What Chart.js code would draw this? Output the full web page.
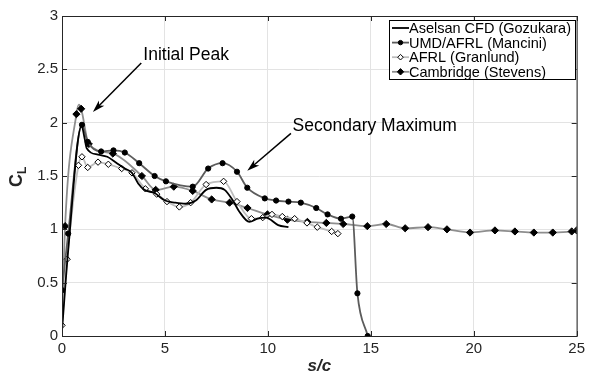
<!DOCTYPE html>
<html>
<head>
<meta charset="utf-8">
<script src="https://cdn.jsdelivr.net/npm/chart.js@4.4.0/dist/chart.umd.min.js"></script>
<style>
  html, body { margin: 0; padding: 0; background: #fff; }
  #wrap { width: 589px; height: 378px; }
</style>
</head>
<body>
<div id="wrap"><canvas id="myChart"></canvas></div>
<script>
// values
var aselsanX = [0, 0.3, 0.95, 1.1, 1.2, 1.75, 2.2, 2.6, 3.05, 3.4, 3.7, 4.0, 4.5, 5.0, 5.5, 6.0, 6.5, 7.0, 7.5, 7.9, 8.3, 8.6, 9.1, 9.5, 9.9, 10.5, 11.0];
var aselsanY = [0.05, 0.8, 1.97, 1.85, 1.76, 1.70, 1.68, 1.63, 1.57, 1.53, 1.43, 1.37, 1.34, 1.27, 1.25, 1.24, 1.27, 1.37, 1.39, 1.37, 1.27, 1.17, 1.07, 1.10, 1.11, 1.04, 1.02];

var manciniX = [0, 0.3, 0.97, 1.25, 1.9, 2.5, 3.05, 3.75, 4.5, 5.05, 6.35, 7.1, 7.8, 8.5, 9.0, 9.85, 10.4, 11.0, 11.6, 12.35, 12.9, 13.55, 14.1, 14.35, 14.85];
var manciniY = [0.43, 0.96, 1.98, 1.82, 1.73, 1.74, 1.72, 1.62, 1.50, 1.45, 1.40, 1.57, 1.62, 1.54, 1.39, 1.29, 1.27, 1.26, 1.25, 1.20, 1.14, 1.10, 1.12, 0.40, 0];

var granlundX = [0, 0.25, 0.8, 0.97, 1.25, 1.75, 2.25, 2.9, 3.4, 4.05, 4.6, 5.1, 5.7, 6.25, 7.0, 7.85, 8.5, 9.2, 9.75, 10.2, 10.7, 11.3, 11.9, 12.4, 13.1, 13.4];
var granlundY = [0.1, 0.72, 1.60, 1.68, 1.58, 1.63, 1.61, 1.57, 1.53, 1.38, 1.33, 1.26, 1.21, 1.25, 1.42, 1.45, 1.26, 1.10, 1.11, 1.14, 1.12, 1.10, 1.06, 1.02, 0.98, 0.96];

var cambridgeX = [0, 0.15, 0.7, 0.82, 0.93, 1.3, 2.47, 3.88, 4.55, 5.43, 6.35, 7.27, 8.14, 9.01, 9.98, 10.95, 11.92, 12.84, 13.66, 14.83, 15.75, 16.67, 17.78, 18.7, 19.82, 21.03, 22.0, 22.92, 23.84, 24.76, 25];
var cambridgeY = [0.1, 1.03, 2.08, 2.17, 2.13, 1.80, 1.71, 1.50, 1.37, 1.40, 1.36, 1.28, 1.25, 1.20, 1.14, 1.09, 1.07, 1.06, 1.05, 1.03, 1.05, 1.01, 1.02, 1.00, 0.97, 0.99, 0.98, 0.97, 0.97, 0.98, 0.99];

var seriesNames = ["Aselsan CFD (Gozukara)", "UMD/AFRL (Mancini)", "AFRL (Granlund)", "Cambridge (Stevens)"];
var xTicks = [0, 5, 10, 15, 20, 25];
var yTicks = [0, 0.5, 1, 1.5, 2, 2.5, 3];

var FONT = "'Liberation Sans', Arial, sans-serif";
var INK = "#262626";

function pts(xs, ys) {
  return xs.map(function (x, i) { return { x: x, y: ys[i] }; });
}

var framePlugin = {
  id: "frame",
  afterDraw: function (chart) {
    var c = chart.ctx, a = chart.chartArea;
    var sx = chart.scales.x, sy = chart.scales.y;
    c.save();
    // box and inward ticks
    c.strokeStyle = INK;
    c.lineWidth = 1;
    c.strokeRect(a.left + 0.5, a.top + 0.5, a.right - a.left, a.bottom - a.top);
    c.beginPath();
    xTicks.forEach(function (v) {
      var px = Math.round(sx.getPixelForValue(v)) + 0.5;
      c.moveTo(px, a.bottom); c.lineTo(px, a.bottom - 5);
      c.moveTo(px, a.top); c.lineTo(px, a.top + 5);
    });
    yTicks.forEach(function (v) {
      var py = Math.round(sy.getPixelForValue(v)) + 0.5;
      c.moveTo(a.left, py); c.lineTo(a.left + 5, py);
      c.moveTo(a.right, py); c.lineTo(a.right - 5, py);
    });
    c.stroke();

    // y title C_L
    c.fillStyle = INK;
    c.translate(17, 180);
    c.rotate(-Math.PI / 2);
    c.font = "bold 18px " + FONT;
    c.textBaseline = "alphabetic";
    c.textAlign = "left";
    c.fillText("C", -7, 5);
    c.font = "bold 12px " + FONT;
    c.fillText("L", 6, 9);
    c.setTransform(1, 0, 0, 1, 0, 0);

    // x title
    c.font = "italic bold 17px " + FONT;
    c.textAlign = "center";
    c.textBaseline = "middle";
    c.fillText("s/c", (a.left + a.right) / 2, 366);

    // annotations
    function arrow(x1, y1, x2, y2) {
      var p1x = sx.getPixelForValue(x1), p1y = sy.getPixelForValue(y1);
      var p2x = sx.getPixelForValue(x2), p2y = sy.getPixelForValue(y2);
      var ang = Math.atan2(p2y - p1y, p2x - p1x);
      c.strokeStyle = "#000";
      c.lineWidth = 1.5;
      c.beginPath();
      c.moveTo(p1x, p1y);
      c.lineTo(p2x - 8 * Math.cos(ang), p2y - 8 * Math.sin(ang));
      c.stroke();
      c.fillStyle = "#000";
      c.beginPath();
      c.moveTo(p2x, p2y);
      c.lineTo(p2x - 13 * Math.cos(ang - 0.3), p2y - 13 * Math.sin(ang - 0.3));
      c.lineTo(p2x - 9 * Math.cos(ang), p2y - 9 * Math.sin(ang));
      c.lineTo(p2x - 13 * Math.cos(ang + 0.3), p2y - 13 * Math.sin(ang + 0.3));
      c.closePath();
      c.fill();
    }
    c.font = "17.5px " + FONT;
    c.fillStyle = "#000";
    c.textAlign = "left";
    c.textBaseline = "middle";
    c.fillText("Initial Peak", sx.getPixelForValue(3.95), sy.getPixelForValue(2.63));
    arrow(3.85, 2.56, 1.5, 2.10);
    c.fillText("Secondary Maximum", sx.getPixelForValue(11.2), sy.getPixelForValue(1.97));
    arrow(11.12, 1.90, 9.0, 1.55);

    // legend
    var lx = 389, ly = 20, lw = 186, lh = 59;
    c.fillStyle = "#fff";
    c.fillRect(lx, ly, lw, lh);
    c.strokeStyle = "#000";
    c.lineWidth = 1;
    c.strokeRect(lx + 0.5, ly + 0.5, lw, lh);
    c.font = "14.5px " + FONT;
    c.textBaseline = "middle";
    chart.data.datasets.forEach(function (ds, i) {
      var ry = 28 + i * 14.6;
      c.strokeStyle = ds.borderColor;
      c.lineWidth = ds.borderWidth;
      c.beginPath();
      c.moveTo(392, ry); c.lineTo(409, ry);
      c.stroke();
      var r = ds.legendRadius;
      if (r > 0) {
        c.fillStyle = ds.pointBackgroundColor;
        c.strokeStyle = "#000";
        c.lineWidth = 1;
        c.beginPath();
        if (ds.pointStyle === "circle") {
          c.arc(400.5, ry, r, 0, Math.PI * 2);
        } else {
          c.moveTo(400.5, ry - r); c.lineTo(400.5 + r, ry);
          c.lineTo(400.5, ry + r); c.lineTo(400.5 - r, ry);
          c.closePath();
        }
        c.fill(); c.stroke();
      }
      c.fillStyle = "#000";
      c.fillText(ds.label, 409, ry + 1);
    });
    c.restore();
  }
};

new Chart("myChart", {
  type: "line",
  data: {
    datasets: [
      {
        label: seriesNames[0],
        data: pts(aselsanX, aselsanY),
        borderColor: "#000",
        borderWidth: 1.8,
        pointRadius: 0,
        legendRadius: 0,
        cubicInterpolationMode: "monotone"
      },
      {
        label: seriesNames[1],
        data: pts(manciniX, manciniY),
        borderColor: "#5c5c5c",
        borderWidth: 1.8,
        pointStyle: "circle",
        pointRadius: 2.6,
        legendRadius: 2.2,
        pointBackgroundColor: "#000",
        pointBorderColor: "#000",
        pointBorderWidth: 1,
        cubicInterpolationMode: "monotone"
      },
      {
        label: seriesNames[2],
        data: pts(granlundX, granlundY),
        borderColor: "#bdbdbd",
        borderWidth: 1.8,
        pointStyle: "rectRot",
        pointRadius: 3.2,
        legendRadius: 2.8,
        pointBackgroundColor: "#fff",
        pointBorderColor: "#000",
        pointBorderWidth: 1,
        cubicInterpolationMode: "monotone"
      },
      {
        label: seriesNames[3],
        data: pts(cambridgeX, cambridgeY),
        borderColor: "#8e8e8e",
        borderWidth: 1.8,
        pointStyle: "rectRot",
        pointRadius: function (ctx) { return ctx.dataIndex === 3 || ctx.dataIndex === 0 ? 0 : 3.6; },
        legendRadius: 3.2,
        pointBackgroundColor: "#000",
        pointBorderColor: "#000",
        pointBorderWidth: 1,
        cubicInterpolationMode: "monotone"
      }
    ]
  },
  options: {
    responsive: true,
    maintainAspectRatio: false,
    animation: false,
    layout: { padding: { top: 16, right: 11, left: 0, bottom: 0 } },
    plugins: {
      legend: { display: false },
      tooltip: { enabled: false }
    },
    scales: {
      x: {
        type: "linear",
        min: 0,
        max: 25,
        afterBuildTicks: function (s) { s.ticks = xTicks.map(function (v) { return { value: v }; }); },
        afterFit: function (s) { s.height = 42; },
        ticks: { font: { family: FONT, size: 15 }, color: INK, padding: 4 },
        grid: { color: "#e3e3e3", drawTicks: false },
        border: { display: false }
      },
      y: {
        min: 0,
        max: 3,
        afterBuildTicks: function (s) { s.ticks = yTicks.map(function (v) { return { value: v }; }); },
        afterFit: function (s) { s.width = 62; },
        ticks: {
          font: { family: FONT, size: 15 },
          color: INK,
          padding: 4,
          callback: function (v) { return String(v); }
        },
        grid: { color: "#e3e3e3", drawTicks: false },
        border: { display: false }
      }
    }
  },
  plugins: [framePlugin]
});
</script>
</body>
</html>
